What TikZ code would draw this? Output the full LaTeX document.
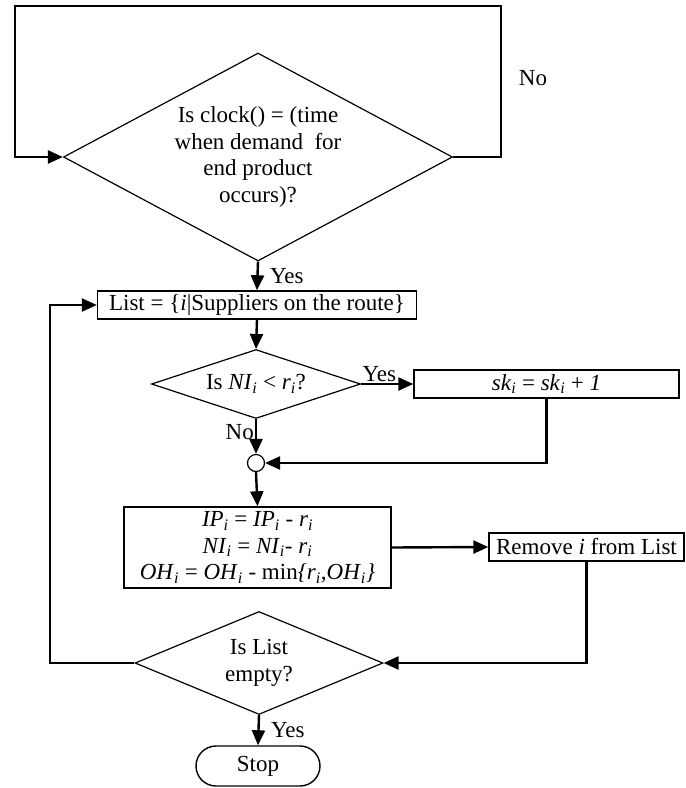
\documentclass[tikz,border=0pt]{standalone}
\usepackage{fontspec}
\setmainfont{Liberation Serif}
\usetikzlibrary{arrows.meta,shapes.geometric,shapes.misc}

\newcommand{\vsub}[2]{\textit{#1}\textsubscript{\textit{#2}}}

\begin{document}
\begin{tikzpicture}[x=1pt, y=-1pt,
  font=\fontsize{23}{26.5}\selectfont,
  decision/.style={draw, diamond, line width=1.2pt, inner sep=-12pt, align=center},
  block/.style={draw, rectangle, line width=1.4pt, inner sep=0pt, align=center},
  flow/.style={line width=2.4pt, -{Triangle[length=15pt,width=13pt]}}]

  \useasboundingbox (0,0) rectangle (686,788);

  % decisions and boxes
  \node[decision, aspect=1.87, minimum width=389pt, minimum height=208pt] (clock) at (258,157)
    {Is clock() = (time\\when demand\ \ for\\end product\\occurs)?};
  \node[block, minimum width=319pt, minimum height=28pt] (list) at (257,305)
    {List = \{\textit{i}|Suppliers on the route\}};
  \node[decision, aspect=3, minimum width=209pt, minimum height=69pt] (short) at (256,384)
    {Is \vsub{NI}{i} < \vsub{r}{i}?};
  \node[block, minimum width=265pt, minimum height=28pt] (skip) at (546.5,384)
    {\vsub{sk}{i} = \vsub{sk}{i} + \textit{1}};
  \node[draw, circle, line width=1.2pt, minimum size=17pt, inner sep=0pt] (join) at (256,463) {};
  \node[block, minimum width=267pt, minimum height=81pt] (update) at (257.5,547.5)
    {\vsub{IP}{i} = \vsub{IP}{i} - \vsub{r}{i}\\
     \vsub{NI}{i} = \vsub{NI}{i}- \vsub{r}{i}\\
     \vsub{OH}{i} = \vsub{OH}{i} - min\textit{\{}\vsub{r}{i},\vsub{OH}{i}\textit{\}}};
  \node[block, minimum width=195pt, minimum height=28pt] (remove) at (586.5,547)
    {Remove \textit{i} from List};
  \node[decision, aspect=2.4, minimum width=248pt, minimum height=103pt] (empty) at (259,663)
    {Is List\\empty?};
  \node[draw, rounded rectangle, line width=1.4pt, minimum width=124pt, minimum height=40pt,
    inner sep=0pt] (stop) at (258,766) {Stop};

  % loop round the first test
  \coordinate (nr) at (501,6);
  \coordinate (nl) at (15,6);
  \node (no1) at (533,78) {No};
  \draw[flow] (clock.east) -| (nr) -- (nl) |- (clock.west);

  \draw[flow] (clock.south) -- node[right, xshift=8pt] {Yes} (list.north);
  \draw[flow] (list.south) -- (short.north);
  \draw[flow] (short.east) -- node[above, inner sep=1pt, pos=0.35] {Yes} (skip.west);
  \draw[flow] (short.south) -- node[left, inner sep=1pt, yshift=4pt] {No} (join.north);
  \draw[flow] (skip.south) |- (join.east);
  \draw[flow] (join.south) -- (update.north);
  \draw[flow] (update.east) -- (remove.west);
  \draw[flow] (remove.south) |- (empty.east);

  % back to the list
  \coordinate (back) at (50,305);
  \draw[flow] (empty.west) -| (back) -- (list.west);

  \draw[flow] (empty.south) -- node[right, xshift=8pt] {Yes} (stop.north);

\end{tikzpicture}
\end{document}
